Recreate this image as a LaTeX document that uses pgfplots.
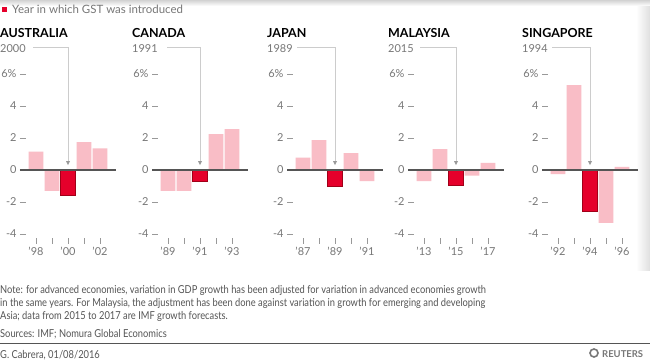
\documentclass[border=0pt]{standalone}
\usepackage{pgfplots}
\pgfplotsset{compat=1.18}
\usepackage{fontspec}
\setmainfont{Lato}
\newfontfamily\notefont[FakeStretch=0.85]{Lato}
\definecolor{pinkbar}{HTML}{F9BDC6}
\definecolor{redbar}{HTML}{E5002B}
\definecolor{redline}{HTML}{A00018}
\definecolor{zerogray}{HTML}{555555}
\definecolor{tickgray}{HTML}{999999}
\definecolor{labelgray}{HTML}{777777}
\definecolor{textgray}{HTML}{555555}
\definecolor{yearline}{HTML}{CCCCCC}
\pgfplotsset{panel/.style={
  scale only axis, width=96bp, height=174.4bp,
  xmin=-1, xmax=5, ymin=-4.6, ymax=6.3,
  axis x line*=bottom, axis y line*=left,
  axis line style={draw=none},
  tick align=inside, major tick length=6bp,
  tick style={color=tickgray, line width=0.7bp},
  ytick={-4,-2,0,2,4,6}, yticklabels={-4,-2,0,2,4,6\%},
  xtick={0,1,2,3,4},
  ticklabel style={font=\fontsize{11}{13}\selectfont, text=labelgray},
  clip=false, anchor=south west,
}}
\newcommand\panel[7]{%
  % #1 left px, #2 title, #3 year, #4 line start, #5 tick labels, #6 pink coords, #7 red coord
  \begin{axis}[panel, at={(#1bp,-243.6bp)}, xticklabels={#5}]
    \addplot[ybar, bar width=0.92, bar shift=0pt, fill=pinkbar, draw=none] coordinates {#6};
    \addplot[ybar, bar width=0.92, bar shift=0pt, fill=redbar, draw=redline, line width=0.8bp] coordinates {#7};
    \draw[yearline, line width=0.8bp] (axis cs:2,0.45) -- (axis cs:2,7.69) -- (axis cs:#4,7.69);
    \fill[tickgray] (axis cs:2,0.3) -- ([xshift=-2bp,yshift=4bp]axis cs:2,0.3) -- ([xshift=2bp,yshift=4bp]axis cs:2,0.3) -- cycle;
    \draw[zerogray, line width=1.3bp] (axis cs:-1,0) -- (axis cs:5,0);
    \node[anchor=base west, inner sep=0pt, xshift=-20bp, font=\bfseries\fontsize{12.5}{14}\selectfont] at (axis cs:-1,8.31) {#2};
    \node[anchor=base west, inner sep=0pt, xshift=-20bp, text=labelgray, font=\fontsize{11}{13}\selectfont] at (axis cs:-1,7.375) {#3};
  \end{axis}}
\begin{document}
\begin{tikzpicture}
\path[use as bounding box, fill=white] (0,0) rectangle (650bp,-361bp);
\shade[top color=gray!35, bottom color=white] (0,0) rectangle (650bp,-6bp);
\shade[left color=white, right color=gray!25] (636bp,-6bp) rectangle (650bp,-270bp);
% legend
\fill[redbar] (2bp,-7bp) rectangle (7bp,-12bp);
\node[anchor=base west, inner sep=0pt, text=labelgray, font=\fontsize{11.5}{13}\selectfont] at (12bp,-13bp) {Year in which GST was introduced};
\panel{20}{AUSTRALIA}{2000}{-0.19}{'98,,'00,,'02}{(0,1.15)(1,-1.3)(3,1.75)(4,1.35)}{(2,-1.6)}
\panel{152}{CANADA}{1991}{-0.06}{'89,,'91,,'93}{(0,-1.3)(1,-1.3)(3,2.25)(4,2.55)}{(2,-0.7)}
\panel{287}{JAPAN}{1989}{-0.375}{'87,,'89,,'91}{(0,0.77)(1,1.87)(3,1.05)(4,-0.7)}{(2,-1.0)}
\panel{408}{MALAYSIA}{2015}{-0.25}{'13,,'15,,'17}{(0,-0.7)(1,1.3)(3,-0.35)(4,0.45)}{(2,-0.95)}
\panel{542}{SINGAPORE}{1994}{-0.375}{'92,,'94,,'96}{(0,-0.25)(1,5.3)(3,-3.3)(4,0.2)}{(2,-2.6)}
% notes
\begin{scope}[every node/.style={anchor=base west, inner sep=0pt, text=textgray, font=\notefont\fontsize{11}{13}\selectfont}]
\node at (0bp,-293bp) {Note: for advanced economies, variation in GDP growth has been adjusted for variation in advanced economies growth};
\node at (0bp,-306bp) {in the same years. For Malaysia, the adjustment has been done against variation in growth for emerging and developing};
\node at (0bp,-319bp) {Asia; data from 2015 to 2017 are IMF growth forecasts.};
\node at (0bp,-337bp) {Sources: IMF; Nomura Global Economics};
\node at (0bp,-358bp) {G. Cabrera, 01/08/2016};
\end{scope}
\draw[zerogray, line width=1bp] (0,-343bp) -- (650bp,-343bp);
\draw[labelgray, line width=1.6bp] (594bp,-353bp) circle (4bp);
\node[anchor=base west, inner sep=0pt, text=labelgray, font=\bfseries\fontsize{9.5}{11}\selectfont] at (602bp,-357bp) {REUTERS};
\end{tikzpicture}
\end{document}
